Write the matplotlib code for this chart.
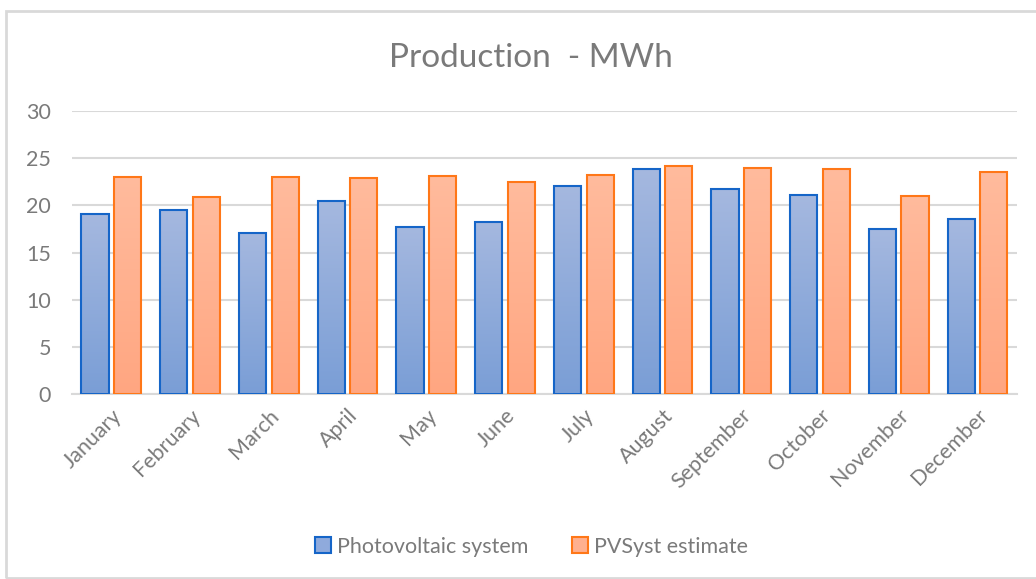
import numpy as np
import matplotlib
matplotlib.use("Agg")
import matplotlib.pyplot as plt
from matplotlib.patches import Rectangle, Patch
from matplotlib.colors import LinearSegmentedColormap

months = ["January", "February", "March", "April", "May", "June",
          "July", "August", "September", "October", "November", "December"]
pv_system = [19.05, 19.45, 17.05, 20.4, 17.75, 18.25, 22.05, 23.8, 21.75, 21.1, 17.45, 18.5]
pvsyst = [23.0, 20.85, 23.0, 22.85, 23.1, 22.45, 23.15, 24.1, 23.95, 23.8, 20.95, 23.55]
yticks = [0, 5, 10, 15, 20, 25, 30]

plt.rcParams["font.family"] = ["Lato", "DejaVu Sans"]
txt = "#7a7a7a"
grid = "#d9d9d9"

fig = plt.figure(figsize=(10.36, 5.79), dpi=100)
fig.patches.append(Rectangle((6 / 1036, 0.002), 1.0, 1 - 11 / 579 - 0.002, transform=fig.transFigure,
                             fill=False, edgecolor="#d9d9d9", lw=2))
ax = fig.add_axes([0.0695, 0.319, 0.912, 0.4898])

x = np.arange(len(months))
w = 0.345
b1 = ax.bar(x - w / 2 - 0.035, pv_system, w, facecolor="none", edgecolor="#1565c8", lw=1.5, zorder=3)
b2 = ax.bar(x + w / 2 + 0.035, pvsyst, w, facecolor="none", edgecolor="#ff7718", lw=1.5, zorder=3)

# vertical gradient fill like the Excel bars
grad = np.linspace(0, 1, 256).reshape(-1, 1)
cm_blue = LinearSegmentedColormap.from_list("b", ["#7a9ed6", "#a5b8df"])
cm_orng = LinearSegmentedColormap.from_list("o", ["#ffa681", "#ffbb9d"])
for bars, cm in ((b1, cm_blue), (b2, cm_orng)):
    for r in bars:
        x0, y0 = r.get_x(), r.get_y()
        im = ax.imshow(grad, cmap=cm, origin="lower", aspect="auto", zorder=2.5,
                       extent=(x0, x0 + r.get_width(), y0, y0 + r.get_height()))
        im.set_clip_path(r)

ax.set_xlim(-0.5, len(months) - 0.5)
ax.set_ylim(0, 30)
ax.set_yticks(yticks)
ax.yaxis.grid(True, color=grid, lw=1.5, zorder=0)
ax.set_axisbelow(True)
for s in ("top", "right", "left"):
    ax.spines[s].set_visible(False)
ax.spines["bottom"].set_color(grid)
ax.spines["bottom"].set_linewidth(1.5)
ax.tick_params(axis="both", length=0, colors=txt, labelsize=15.5)
ax.tick_params(axis="y", pad=15)
ax.set_xticks(x)
ax.set_xticklabels(months, rotation=45, ha="right", rotation_mode="anchor")
ax.tick_params(axis="x", pad=8)
for lbl in ax.get_xticklabels():
    lbl.set_x(lbl.get_position()[0])

fig.text(0.512, 0.9, "Production  - MWh", ha="center", va="center", fontsize=24, color=txt)
handles = [Patch(facecolor="#8faadc", edgecolor="#1565c8", lw=1.5, label="Photovoltaic system"),
           Patch(facecolor="#ffb08f", edgecolor="#ff7718", lw=1.5, label="PVSyst estimate")]
fig.legend(handles=handles, loc="center", bbox_to_anchor=(0.513, 0.056), ncol=2, frameon=False,
           fontsize=15.5, labelcolor=txt, handlelength=0.75, handleheight=0.75, handletextpad=0.3,
           columnspacing=2.0)

fig.savefig("out.png", dpi=100)
